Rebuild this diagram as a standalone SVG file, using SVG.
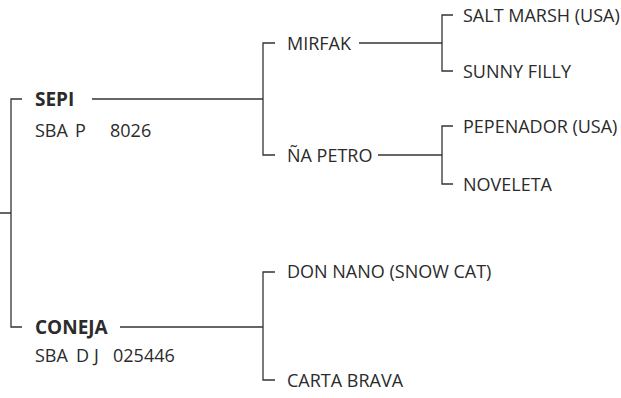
<svg xmlns="http://www.w3.org/2000/svg" width="621" height="398" viewBox="0 0 621 398">
<style>
text{font-family:"Open Sans","Noto Sans","Liberation Sans",sans-serif;font-size:18px;fill:#2b2b2b}
.b{font-weight:bold;font-size:19px}
.c path,.c line{stroke:#333;stroke-width:1.3;fill:none}
</style>
<rect width="621" height="398" fill="#fff"/>
<g class="c" id="connectors">
<path d="M0 213H11M22 99H11V327H22"/>
<line x1="92" y1="99" x2="263" y2="99"/>
<line x1="120" y1="327" x2="263" y2="327"/>
<path d="M275 43H263V155H275"/>
<path d="M275 272H263V380H275"/>
<line x1="359" y1="43" x2="442" y2="43"/>
<line x1="378" y1="155" x2="442" y2="155"/>
<path d="M453 15H442V71H453"/>
<path d="M453 126H442V184H453"/>
</g>
<g id="sepi"><text class="b" x="35" y="106">SEPI</text><text y="137"><tspan x="35">SBA</tspan><tspan x="75">P</tspan><tspan x="110">8026</tspan></text></g>
<g id="coneja"><text class="b" x="35" y="334">CONEJA</text><text y="362"><tspan x="35">SBA</tspan><tspan x="76">D</tspan><tspan x="94">J</tspan><tspan x="113">025446</tspan></text></g>
<g id="mirfak"><text x="287" y="49.5">MIRFAK</text></g>
<g id="napetro"><text x="287" y="161.5">ÑA PETRO</text></g>
<g id="donnano"><text x="287" y="278">DON NANO (SNOW CAT)</text></g>
<g id="cartabrava"><text x="287" y="387">CARTA BRAVA</text></g>
<g id="saltmarsh"><text x="463" y="21.5">SALT MARSH (USA)</text></g>
<g id="sunnyfilly"><text x="463" y="77.5">SUNNY FILLY</text></g>
<g id="pepenador"><text x="463" y="132.5">PEPENADOR (USA)</text></g>
<g id="noveleta"><text x="463" y="190.5">NOVELETA</text></g>
</svg>
